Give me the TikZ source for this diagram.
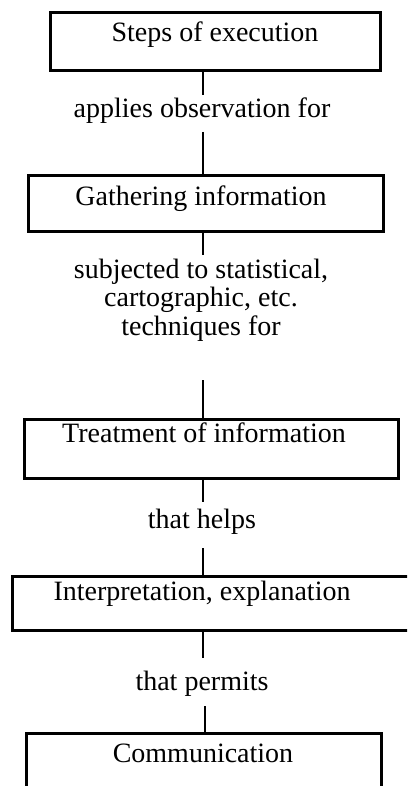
\documentclass[tikz,border=0pt]{standalone}
\usepackage{fontspec}
\setmainfont{Liberation Serif}
\begin{document}
\begin{tikzpicture}[x=1pt,y=1pt,
  frame/.style={draw=black, line width=2.6pt, rectangle, inner sep=0pt, anchor=north west},
  caption/.style={anchor=base, inner sep=0pt, font=\fontsize{28}{28.5}\selectfont},
  link/.style={draw=black, line width=2.6pt}]
\useasboundingbox (0,0) rectangle (407,-786);
\clip (0,0) rectangle (407,-786);

% boxes (the last two run past the page edge)
\node[frame, minimum width=330, minimum height=58] (b1) at (49,-11) {};
\node[frame, minimum width=355, minimum height=56] (b2) at (27,-174) {};
\node[frame, minimum width=374, minimum height=59] (b3) at (23,-418) {};
\node[frame, minimum width=430, minimum height=54] (b4) at (11,-575) {};
\node[frame, minimum width=355, minimum height=90] (b5) at (25,-732) {};

% box titles
\node[caption] (t1) at (215,-42) {Steps of execution};
\node[caption] (t2) at (201,-206) {Gathering information};
\node[caption] (t3) at (204,-442) {Treatment of information};
\node[caption] (t4) at (202,-600) {Interpretation, explanation};
\node[caption] (t5) at (203,-762) {Communication};

% connector labels (a multi-line label sits on the baseline of its last line)
\node[caption] (l1) at (202,-118) {applies observation for};
\node[caption, align=center] (l2) at (201,-335) {subjected to statistical,\\cartographic, etc.\\techniques for};
\node[caption] (l3) at (202,-528) {that helps};
\node[caption] (l4) at (202,-690) {that permits};

% free ends of the connector stubs
\coordinate (c1a) at (203,-95);
\coordinate (c1b) at (203,-132);
\coordinate (c2a) at (203,-255);
\coordinate (c2b) at (203,-380);
\coordinate (c3a) at (203,-502);
\coordinate (c3b) at (203,-548);
\coordinate (c4a) at (203,-658);
\coordinate (c4b) at (205,-706);

% connectors
\draw[link] (b1.south -| c1a) -- (c1a);
\draw[link] (c1b) -- (b2.north -| c1b);
\draw[link] (b2.south -| c2a) -- (c2a);
\draw[link] (c2b) -- (b3.north -| c2b);
\draw[link] (b3.south -| c3a) -- (c3a);
\draw[link] (c3b) -- (b4.north -| c3b);
\draw[link] (b4.south -| c4a) -- (c4a);
\draw[link] (c4b) -- (b5.north -| c4b);
\end{tikzpicture}
\end{document}
